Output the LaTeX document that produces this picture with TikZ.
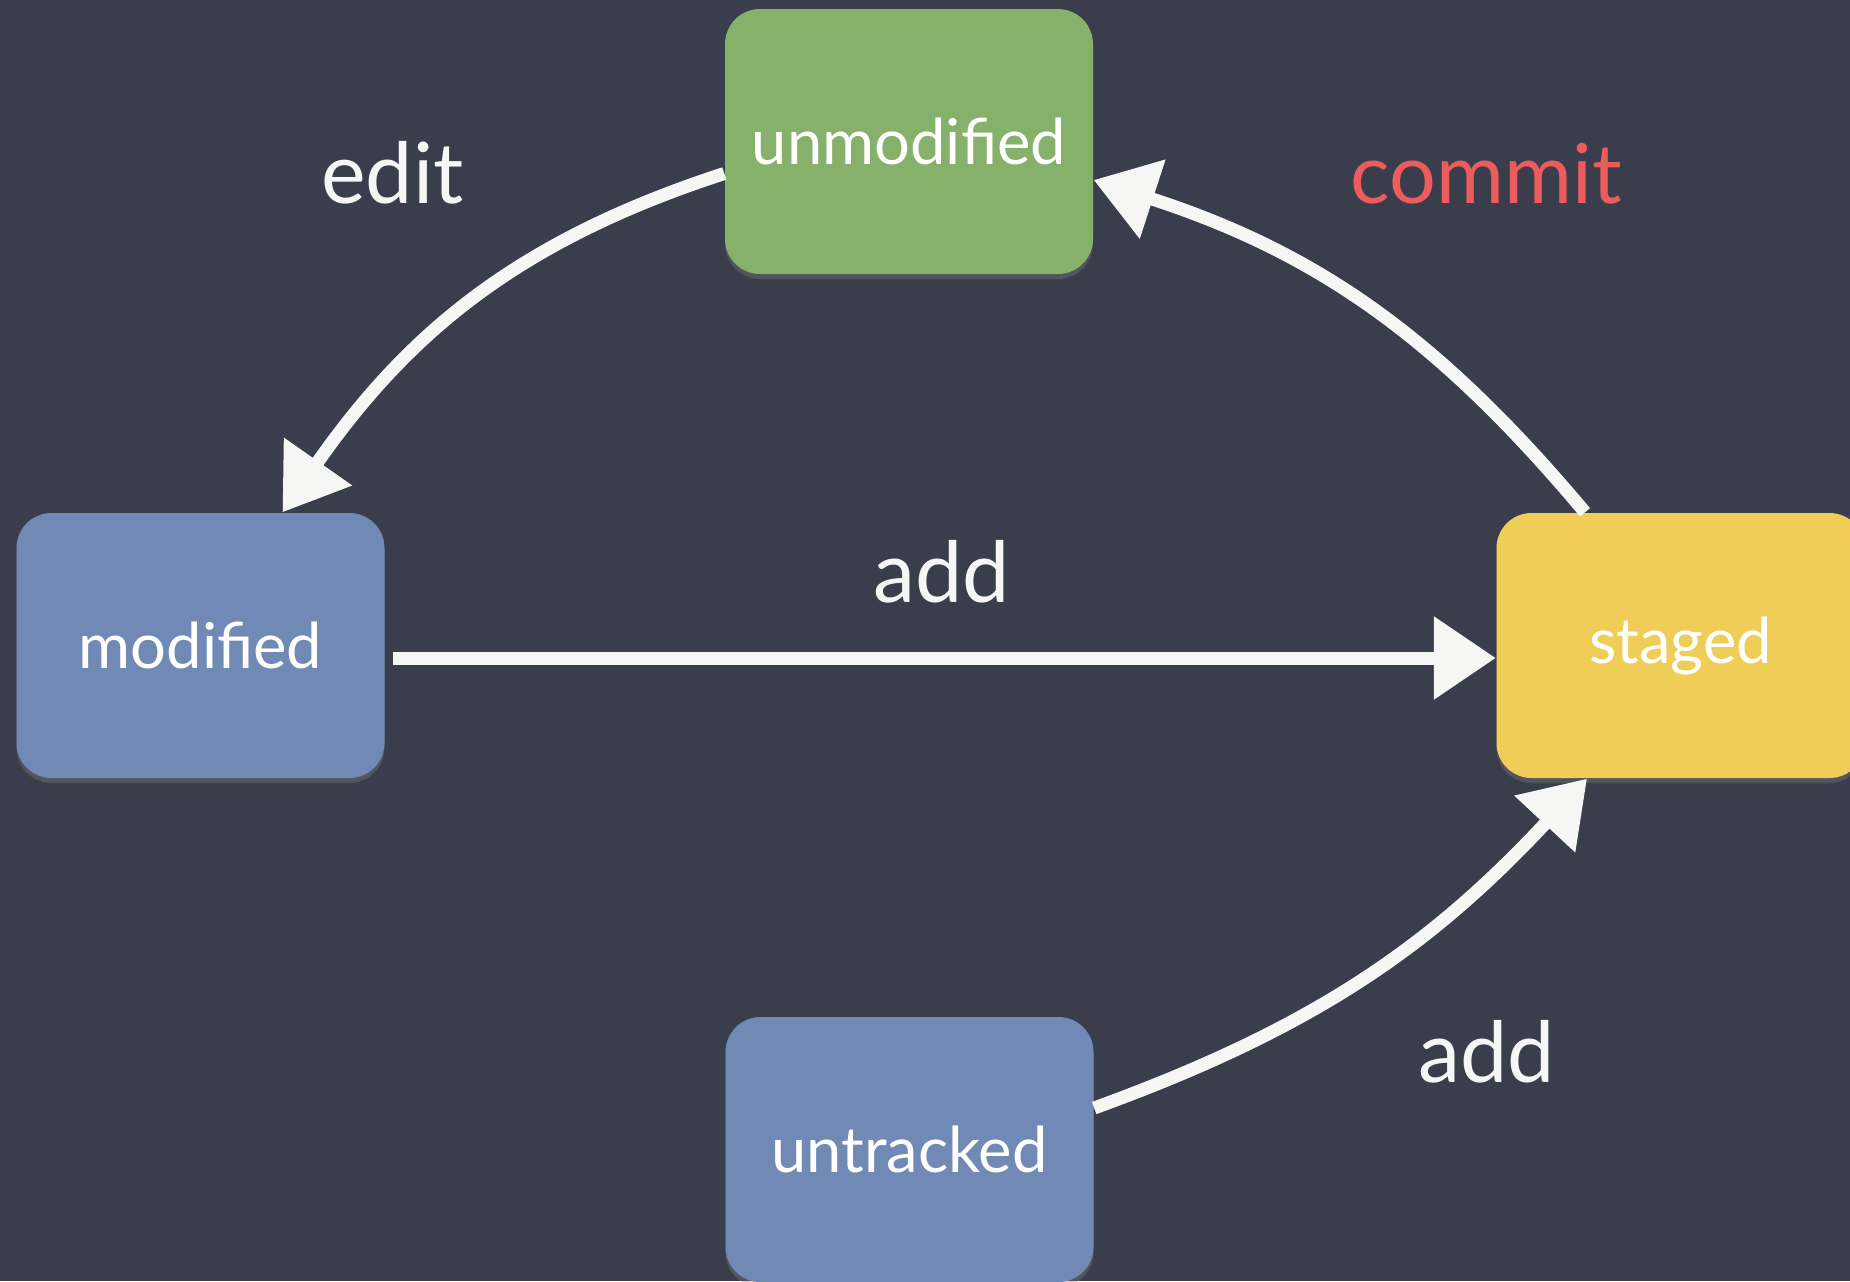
\documentclass[tikz,border=0pt]{standalone}
\usepackage{fontspec}
\setmainfont{Lato}
\usepackage{tikz}
\usetikzlibrary{arrows.meta, shadows}

\definecolor{board}{RGB}{58,62,76}
\definecolor{chalk}{RGB}{246,246,244}
\definecolor{stgreen}{RGB}{134,177,106}
\definecolor{stblue}{RGB}{112,138,181}
\definecolor{styellow}{RGB}{240,205,86}
\definecolor{chalkred}{RGB}{236,92,92}

\begin{document}
\begin{tikzpicture}[
    state/.style={rounded corners=0.35cm, minimum width=3.68cm, minimum height=2.65cm,
                  text=white, font=\fontsize{18}{20}\selectfont,
                  drop shadow={opacity=0.35, shadow xshift=0cm, shadow yshift=-0.05cm}},
    chalkline/.style={draw=chalk, line width=0.13cm,
                      -{Triangle[length=0.62cm, width=0.8cm]}},
    edgelbl/.style={text=chalk, anchor=base, font=\fontsize{24}{28}\selectfont}
]
    \useasboundingbox (0,0) rectangle (18.5,-12.81);
    \clip (0,0) rectangle (18.5,-12.81);
    \fill[board] (0,0) rectangle (18.5,-12.81);

    % the four file states
    \node[state, fill=stgreen]  (unmod)  at ( 9.09,  -1.415) {unmodified};
    \node[state, fill=stblue]   (modi)   at ( 2.005, -6.455) {modified};
    \node[state, fill=styellow] (staged) at (16.805, -6.455) {staged};
    \node[state, fill=stblue]   (untr)   at ( 9.095,-11.495) {untracked};

    % transitions between the states
    \draw[chalkline] ([yshift=-0.32cm]unmod.west) to[out=198, in=55] ([xshift=0.82cm]modi.north);
    \draw[chalkline] ([xshift=-0.955cm]staged.north) to[out=130, in=-18] ([yshift=-0.385cm]unmod.east);
    \draw[chalkline] ([xshift=0.08cm, yshift=-0.125cm]modi.east) -- ([yshift=-0.125cm]staged.west);
    \draw[chalkline] ([yshift=0.415cm]untr.east) to[out=20, in=227] ([xshift=-0.935cm]staged.south);

    % labels of the transitions
    \node[edgelbl] (editlbl) at ( 3.925, -2.03) {edit};
    \node[edgelbl, text=chalkred, font=\fontsize{23.5}{27}\selectfont] (commitlbl) at (14.86, -2.03) {commit};
    \node[edgelbl] (addlbl) at ( 9.42, -6.02) {add};
    \node[edgelbl] (addnewlbl) at (14.865,-10.82) {add};
\end{tikzpicture}
\end{document}
